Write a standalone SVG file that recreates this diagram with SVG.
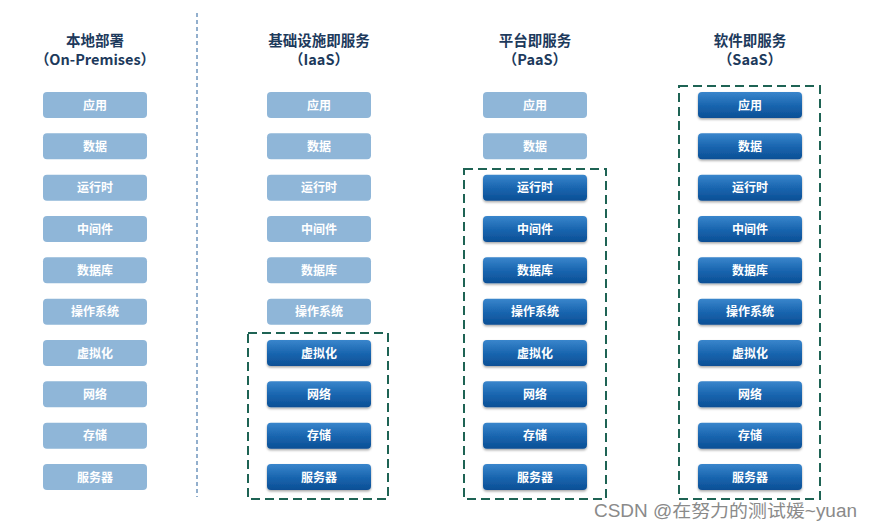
<svg xmlns="http://www.w3.org/2000/svg" width="872" height="530" viewBox="0 0 872 530">
<defs>
<linearGradient id="dk" x1="0" y1="0" x2="0" y2="1">
<stop offset="0" stop-color="#3a86cc"/>
<stop offset="0.5" stop-color="#1a66b0"/>
<stop offset="1" stop-color="#0b4f95"/>
</linearGradient>
<filter id="sh" x="-10%" y="-20%" width="120%" height="160%">
<feDropShadow dx="0" dy="1.5" stdDeviation="1.2" flood-color="#000" flood-opacity="0.35"/>
</filter>
<style>
.lt{fill:#8fb6d8}
.dk{fill:url(#dk);filter:url(#sh)}
.t{font-family:"Noto Sans CJK SC","Liberation Sans",sans-serif;font-size:12px;font-weight:bold;fill:#fff;text-anchor:middle}
.h{font-family:"Noto Sans CJK SC","Liberation Sans",sans-serif;font-size:14.5px;font-weight:bold;fill:#1d3a5c;text-anchor:middle}
.dash{fill:none;stroke:#1e6354;stroke-width:2;stroke-dasharray:9 5}
</style>
</defs>
<rect width="872" height="530" fill="#fff"/>
<g id="separator">
<line x1="197" y1="13" x2="197" y2="497" stroke="#6f95bd" stroke-width="1.5" stroke-dasharray="4 3"/>
</g>
<g id="headers">
<text class="h" x="95" y="46">本地部署</text>
<text class="h" x="95" y="65">（On-Premises）</text>
<text class="h" x="319" y="46">基础设施即服务</text>
<text class="h" x="319" y="65">（IaaS）</text>
<text class="h" x="535" y="46">平台即服务</text>
<text class="h" x="535" y="65">（PaaS）</text>
<text class="h" x="750" y="46">软件即服务</text>
<text class="h" x="750" y="65">（SaaS）</text>
</g>
<g id="col-onprem">
<rect class="lt" x="43" y="92" width="104" height="26" rx="4"/><text class="t" x="95" y="109.5">应用</text>
<rect class="lt" x="43" y="133.3" width="104" height="26" rx="4"/><text class="t" x="95" y="150.8">数据</text>
<rect class="lt" x="43" y="174.7" width="104" height="26" rx="4"/><text class="t" x="95" y="192.2">运行时</text>
<rect class="lt" x="43" y="216" width="104" height="26" rx="4"/><text class="t" x="95" y="233.5">中间件</text>
<rect class="lt" x="43" y="257.3" width="104" height="26" rx="4"/><text class="t" x="95" y="274.8">数据库</text>
<rect class="lt" x="43" y="298.7" width="104" height="26" rx="4"/><text class="t" x="95" y="316.2">操作系统</text>
<rect class="lt" x="43" y="340" width="104" height="26" rx="4"/><text class="t" x="95" y="357.5">虚拟化</text>
<rect class="lt" x="43" y="381.3" width="104" height="26" rx="4"/><text class="t" x="95" y="398.8">网络</text>
<rect class="lt" x="43" y="422.7" width="104" height="26" rx="4"/><text class="t" x="95" y="440.2">存储</text>
<rect class="lt" x="43" y="464" width="104" height="26" rx="4"/><text class="t" x="95" y="481.5">服务器</text>
</g>
<g id="col-iaas">
<rect class="dash" x="248" y="333" width="140" height="166"/>
<rect class="lt" x="267" y="92" width="104" height="26" rx="4"/><text class="t" x="319" y="109.5">应用</text>
<rect class="lt" x="267" y="133.3" width="104" height="26" rx="4"/><text class="t" x="319" y="150.8">数据</text>
<rect class="lt" x="267" y="174.7" width="104" height="26" rx="4"/><text class="t" x="319" y="192.2">运行时</text>
<rect class="lt" x="267" y="216" width="104" height="26" rx="4"/><text class="t" x="319" y="233.5">中间件</text>
<rect class="lt" x="267" y="257.3" width="104" height="26" rx="4"/><text class="t" x="319" y="274.8">数据库</text>
<rect class="lt" x="267" y="298.7" width="104" height="26" rx="4"/><text class="t" x="319" y="316.2">操作系统</text>
<rect class="dk" x="267" y="340" width="104" height="26" rx="4"/><text class="t" x="319" y="357.5">虚拟化</text>
<rect class="dk" x="267" y="381.3" width="104" height="26" rx="4"/><text class="t" x="319" y="398.8">网络</text>
<rect class="dk" x="267" y="422.7" width="104" height="26" rx="4"/><text class="t" x="319" y="440.2">存储</text>
<rect class="dk" x="267" y="464" width="104" height="26" rx="4"/><text class="t" x="319" y="481.5">服务器</text>
</g>
<g id="col-paas">
<rect class="dash" x="464" y="169" width="142" height="330"/>
<rect class="lt" x="483" y="92" width="104" height="26" rx="4"/><text class="t" x="535" y="109.5">应用</text>
<rect class="lt" x="483" y="133.3" width="104" height="26" rx="4"/><text class="t" x="535" y="150.8">数据</text>
<rect class="dk" x="483" y="174.7" width="104" height="26" rx="4"/><text class="t" x="535" y="192.2">运行时</text>
<rect class="dk" x="483" y="216" width="104" height="26" rx="4"/><text class="t" x="535" y="233.5">中间件</text>
<rect class="dk" x="483" y="257.3" width="104" height="26" rx="4"/><text class="t" x="535" y="274.8">数据库</text>
<rect class="dk" x="483" y="298.7" width="104" height="26" rx="4"/><text class="t" x="535" y="316.2">操作系统</text>
<rect class="dk" x="483" y="340" width="104" height="26" rx="4"/><text class="t" x="535" y="357.5">虚拟化</text>
<rect class="dk" x="483" y="381.3" width="104" height="26" rx="4"/><text class="t" x="535" y="398.8">网络</text>
<rect class="dk" x="483" y="422.7" width="104" height="26" rx="4"/><text class="t" x="535" y="440.2">存储</text>
<rect class="dk" x="483" y="464" width="104" height="26" rx="4"/><text class="t" x="535" y="481.5">服务器</text>
</g>
<g id="col-saas">
<rect class="dash" x="679" y="86" width="141" height="413"/>
<rect class="dk" x="698" y="92" width="104" height="26" rx="4"/><text class="t" x="750" y="109.5">应用</text>
<rect class="dk" x="698" y="133.3" width="104" height="26" rx="4"/><text class="t" x="750" y="150.8">数据</text>
<rect class="dk" x="698" y="174.7" width="104" height="26" rx="4"/><text class="t" x="750" y="192.2">运行时</text>
<rect class="dk" x="698" y="216" width="104" height="26" rx="4"/><text class="t" x="750" y="233.5">中间件</text>
<rect class="dk" x="698" y="257.3" width="104" height="26" rx="4"/><text class="t" x="750" y="274.8">数据库</text>
<rect class="dk" x="698" y="298.7" width="104" height="26" rx="4"/><text class="t" x="750" y="316.2">操作系统</text>
<rect class="dk" x="698" y="340" width="104" height="26" rx="4"/><text class="t" x="750" y="357.5">虚拟化</text>
<rect class="dk" x="698" y="381.3" width="104" height="26" rx="4"/><text class="t" x="750" y="398.8">网络</text>
<rect class="dk" x="698" y="422.7" width="104" height="26" rx="4"/><text class="t" x="750" y="440.2">存储</text>
<rect class="dk" x="698" y="464" width="104" height="26" rx="4"/><text class="t" x="750" y="481.5">服务器</text>
</g>
<g id="watermark">
<text x="594" y="517" font-family="'Liberation Sans','Noto Sans CJK SC',sans-serif" font-size="17.5" fill="#8a8a8a" textLength="263" lengthAdjust="spacingAndGlyphs">CSDN @在努力的测试媛~yuan</text>
</g>
</svg>
